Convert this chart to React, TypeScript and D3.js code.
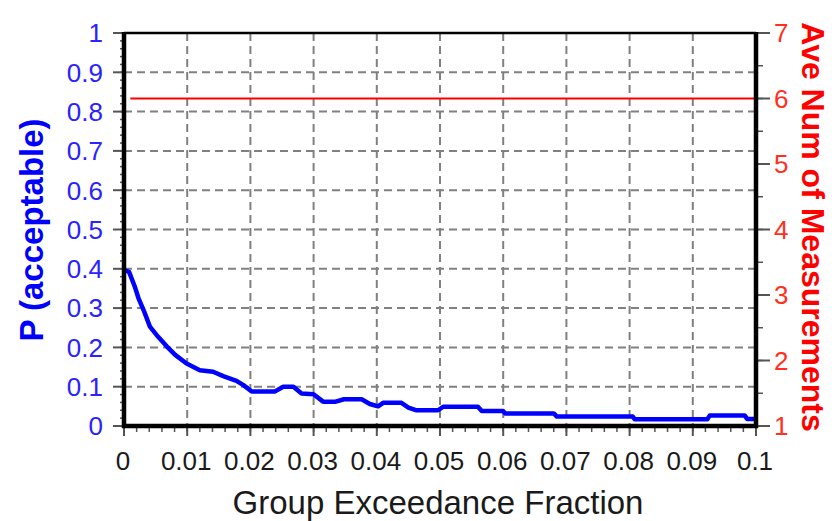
import React from "react";
import * as d3 from "d3";

// X axis (Group Exceedance Fraction)
const xTicks = [0, 0.01, 0.02, 0.03, 0.04, 0.05, 0.06, 0.07, 0.08, 0.09, 0.1];
const xTickLabels = ["0", "0.01", "0.02", "0.03", "0.04", "0.05", "0.06", "0.07", "0.08", "0.09", "0.1"];
// Left axis P(acceptable)
const leftTicks = [0, 0.1, 0.2, 0.3, 0.4, 0.5, 0.6, 0.7, 0.8, 0.9, 1];
const leftTickLabels = ["0", "0.1", "0.2", "0.3", "0.4", "0.5", "0.6", "0.7", "0.8", "0.9", "1"];
// Right axis Ave Num of Measurements
const rightTicks = [1, 2, 3, 4, 5, 6, 7];

// P(acceptable) curve
const pX = [
  0, 0.0008, 0.0017, 0.0023, 0.0031, 0.0041, 0.0054, 0.0068, 0.0081, 0.0099,
  0.012, 0.0141, 0.0157, 0.0178, 0.0189, 0.0202, 0.0239, 0.0252, 0.0268, 0.0281,
  0.03, 0.0315, 0.0335, 0.0348, 0.0376, 0.0389, 0.0402, 0.041, 0.0439, 0.045,
  0.0463, 0.0497, 0.0505, 0.056, 0.0566, 0.06, 0.0603, 0.068, 0.0685, 0.0805,
  0.0808, 0.0923, 0.0927, 0.0982, 0.0986, 0.1,
];
const pY = [
  0.397, 0.392, 0.355, 0.325, 0.295, 0.253, 0.227, 0.202, 0.181, 0.159,
  0.142, 0.138, 0.127, 0.115, 0.104, 0.088, 0.088, 0.1, 0.1, 0.083,
  0.081, 0.062, 0.062, 0.068, 0.068, 0.056, 0.05, 0.059, 0.059, 0.047,
  0.04, 0.04, 0.049, 0.049, 0.038, 0.038, 0.032, 0.032, 0.024, 0.024,
  0.017, 0.017, 0.027, 0.027, 0.018, 0.018,
];

// Ave Num of Measurements line
const aveX = [0.001, 0.1];
const aveY = [6, 6];

export default function App() {
  const W = 832;
  const H = 521;
  const L = 124, R = 756, T = 33, B = 426;
  const x = d3.scaleLinear().domain([0, 0.1]).range([L, R]);
  const yL = d3.scaleLinear().domain([0, 1]).range([B, T]);
  const yR = d3.scaleLinear().domain([1, 7]).range([B, T]);

  const pData = pX.map((v, i) => [v, pY[i]] as [number, number]);
  const aveData = aveX.map((v, i) => [v, aveY[i]] as [number, number]);
  const pLine = d3.line<[number, number]>().x((d) => x(d[0])).y((d) => yL(d[1]))(pData) || "";
  const aveLine = d3.line<[number, number]>().x((d) => x(d[0])).y((d) => yR(d[1]))(aveData) || "";

  const xMinor = d3.range(0, 51).map((i) => i * 0.002);
  const lMinor = d3.range(0, 51).map((i) => i * 0.02);
  const rMinor = d3.range(0, 13).map((i) => 1 + i * 0.5);

  const font = "'Liberation Sans', Arial, sans-serif";
  const tickCol = "#555";
  const gridCol = "#808080";

  return (
    <div style={{ position: "fixed", left: 0, top: 0 }}>
      <svg width={W} height={H} style={{ display: "block", background: "#fff" }}>
        {/* grid */}
        {xTicks.slice(1, -1).map((t) => (
          <line key={"gx" + t} x1={x(t)} x2={x(t)} y1={T} y2={B} stroke={gridCol} strokeWidth={2} strokeDasharray="8,5" />
        ))}
        {leftTicks.slice(1, -1).map((t) => (
          <line key={"gy" + t} x1={L} x2={R} y1={yL(t)} y2={yL(t)} stroke={gridCol} strokeWidth={2} strokeDasharray="8,5" />
        ))}

        {/* minor ticks */}
        {xMinor.map((t, i) => (
          <line key={"xm" + i} x1={x(t)} x2={x(t)} y1={B} y2={B + 6} stroke={tickCol} strokeWidth={1.5} />
        ))}
        {lMinor.map((t, i) => (
          <line key={"lm" + i} x1={L - 4} x2={L} y1={yL(t)} y2={yL(t)} stroke={tickCol} strokeWidth={1.5} />
        ))}
        {rMinor.map((t, i) => (
          <line key={"rm" + i} x1={R} x2={R + 7} y1={yR(t)} y2={yR(t)} stroke={tickCol} strokeWidth={1.5} />
        ))}
        {/* major ticks */}
        {xTicks.map((t) => (
          <line key={"xM" + t} x1={x(t)} x2={x(t)} y1={B} y2={B + 10} stroke={tickCol} strokeWidth={2} />
        ))}
        {leftTicks.map((t) => (
          <line key={"lM" + t} x1={L - 11} x2={L} y1={yL(t)} y2={yL(t)} stroke={tickCol} strokeWidth={2} />
        ))}
        {rightTicks.map((t) => (
          <line key={"rM" + t} x1={R} x2={R + 14} y1={yR(t)} y2={yR(t)} stroke={tickCol} strokeWidth={2} />
        ))}

        {/* data */}
        <path d={aveLine} fill="none" stroke="#ff0000" strokeWidth={2} />
        <path d={pLine} fill="none" stroke="#0000ff" strokeWidth={4.5} strokeLinejoin="round" />

        {/* frame */}
        <line x1={L} x2={R} y1={T} y2={T} stroke="#000" strokeWidth={2.5} />
        <line x1={L} x2={L} y1={T - 1} y2={B + 2} stroke="#000" strokeWidth={4.5} />
        <line x1={R} x2={R} y1={T - 1} y2={B + 2} stroke="#000" strokeWidth={4.5} />
        <line x1={L - 2} x2={R + 2} y1={B} y2={B} stroke="#000" strokeWidth={4.5} />

        {/* tick labels */}
        {xTicks.map((t, i) => (
          <text key={"xl" + t} x={x(t) - 1} y={470} textAnchor="middle" fontFamily={font} fontSize={26} fill="#1a1a1a">
            {xTickLabels[i]}
          </text>
        ))}
        {leftTicks.map((t, i) => (
          <text key={"ll" + t} x={103} y={yL(t)} dy="0.36em" textAnchor="end" fontFamily={font} fontSize={26} fill="#2a22ff">
            {leftTickLabels[i]}
          </text>
        ))}
        {rightTicks.map((t) => (
          <text key={"rl" + t} x={774} y={yR(t)} dy="0.36em" textAnchor="start" fontFamily={font} fontSize={26} fill="#ff3020">
            {String(t)}
          </text>
        ))}

        {/* axis titles */}
        <text x={(L + R) / 2 - 2} y={514} textAnchor="middle" fontFamily={font} fontSize={33} fill="#1a1a1a">
          Group Exceedance Fraction
        </text>
        <text transform={`translate(43,230) rotate(-90)`} textAnchor="middle" fontFamily={font} fontSize={33} fontWeight="bold" fill="#0000ff">
          P (acceptable)
        </text>
        <text transform={`translate(802,227) rotate(90)`} textAnchor="middle" fontFamily={font} fontSize={32} fontWeight="bold" fill="#ff0000">
          Ave Num of Measurements
        </text>
      </svg>
    </div>
  );
}
